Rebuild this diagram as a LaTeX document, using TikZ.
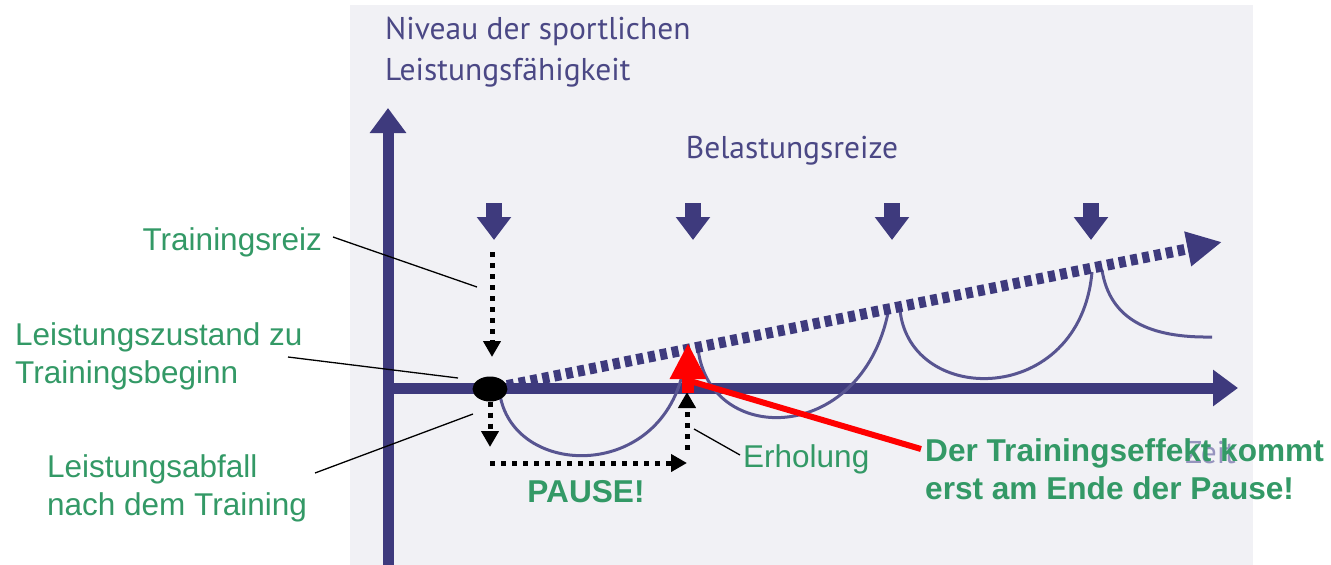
\documentclass[tikz,border=0pt]{standalone}
\usepackage{fontspec}
\setmainfont{Liberation Sans}
\newfontfamily\myriad{PT Sans}
\usetikzlibrary{arrows.meta,shapes.geometric}
\definecolor{axisblue}{RGB}{62,58,125}
\definecolor{curveblue}{RGB}{88,85,145}
\definecolor{labelblue}{RGB}{75,72,133}
\definecolor{zeitblue}{RGB}{150,148,190}
\definecolor{txtgreen}{RGB}{51,153,102}
\definecolor{paper}{RGB}{241,241,245}

\begin{document}
\begin{tikzpicture}[x=1pt,y=-1pt,
    axis/.style={draw=axisblue,line width=11pt,-{Triangle[length=25pt,width=35pt]}},
    reiz/.style={draw=axisblue,line width=16pt,-{Triangle[length=23pt,width=33pt]}},
    bogen/.style={draw=curveblue,line width=3pt},
    pfeil/.style={draw=black,line width=5pt,dash pattern=on 5pt off 6pt,-{Triangle[length=16pt,width=17pt]}},
    leader/.style={draw=black,line width=1.3pt},
    gruen/.style={text=txtgreen,font=\fontsize{31.5}{38}\selectfont,inner sep=0pt},
    gruenfett/.style={text=txtgreen,font=\bfseries\fontsize{31.6}{38}\selectfont,inner sep=0pt},
    lila/.style={text=labelblue,font=\myriad\fontsize{31.5}{41}\selectfont,inner sep=0pt}]
        \useasboundingbox (0,0) rectangle (1331,565);
        \fill[paper] (350,5) rectangle (1253,565);

        \node[lila,anchor=base west,align=left] (niveau) at (385,80) {Niveau der sportlichen\\Leistungsfähigkeit};
        \node[lila,anchor=base] (belastung) at (792,158) {Belastungsreize};
        \node[lila,text=zeitblue,anchor=base west] (zeit) at (1185,463) {Zeit};

        \draw[axis] (388,565) -- (388,108);
        \draw[axis] (383,388) -- (1238,388);

        \draw[bogen] (500,395) .. controls (515,482) and (675,482) .. (686,352);
        \draw[bogen] (698,348) .. controls (708,446) and (860,446) .. (888,313);
        \draw[bogen] (900,310) .. controls (910,407) and (1080,407) .. (1092,272);
        \draw[bogen] (1102,270) .. controls (1110,320) and (1150,338) .. (1212,337);

        \foreach \x in {494,693,892,1091}
            \draw[reiz] (\x,203) -- (\x,240);

        \node[ellipse,fill=black,inner sep=0pt,minimum width=35pt,minimum height=25pt] (start) at (490,389) {};
        \coordinate (trend) at (1222,242);
        \draw[axisblue,line width=11pt,dash pattern=on 7pt off 5pt,-{Triangle[length=35pt,width=33pt]}] (start) -- (trend);

        \coordinate (reizoben) at (492,252);
        \coordinate (reizunten) at (492,357);
        \coordinate (abfallunten) at (490,447);
        \coordinate (pauselinks) at (490,463);
        \coordinate (pauserechts) at (687,463);
        \coordinate (erholungunten) at (687,450);
        \coordinate (erholungoben) at (687,392);
        \draw[pfeil] (reizoben) -- (reizunten);
        \draw[pfeil] (start) -- (abfallunten);
        \draw[pfeil] (pauselinks) -- (pauserechts);
        \draw[pfeil] (erholungunten) -- (erholungoben);

        \node[gruen,anchor=base east] (reiz) at (322,250) {Trainingsreiz};
        \node[gruen,anchor=base west,align=left] (zustand) at (15,383) {Leistungszustand zu\\Trainingsbeginn};
        \node[gruen,anchor=base west,align=left] (abfall) at (47,515) {Leistungsabfall\\nach dem Training};
        \node[gruen,anchor=base west] (erholung) at (743,467) {Erholung};
        \node[gruenfett,anchor=base] (pause) at (586,502) {PAUSE!};
        \node[gruenfett,anchor=base west,align=left] (effekt) at (925,499) {Der Trainingseffekt kommt\\erst am Ende der Pause!};

        \coordinate (reizpunkt) at (333,237);
        \coordinate (reizziel) at (477,287);
        \coordinate (zustandpunkt) at (288,357);
        \coordinate (zustandziel) at (458,378);
        \coordinate (abfallpunkt) at (315,473);
        \coordinate (abfallziel) at (473,414);
        \coordinate (erholungpunkt) at (740,455);
        \coordinate (erholungziel) at (694,429);
        \draw[leader] (reizpunkt) -- (reizziel);
        \draw[leader] (zustandpunkt) -- (zustandziel);
        \draw[leader] (abfallpunkt) -- (abfallziel);
        \draw[leader] (erholungpunkt) -- (erholungziel);

        \coordinate (effektpunkt) at (921,449);
        \coordinate (knick) at (690,381);
        \draw[red,line width=6pt] (effektpunkt) -- (knick);
        \draw[red,line width=12pt,-{Triangle[length=36pt,width=34pt]}] (688,393) -- (688,343);
\end{tikzpicture}
\end{document}
